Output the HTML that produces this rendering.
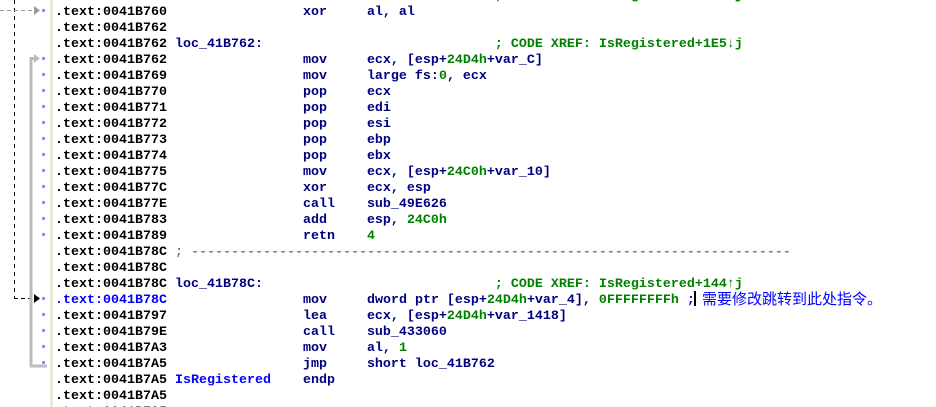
<!DOCTYPE html>
<html><head><meta charset="utf-8"><style>
html,body{margin:0;padding:0;background:#fff;width:936px;height:407px;overflow:hidden;position:relative}
.sep{position:absolute;left:50px;top:0;width:3px;height:407px;background:#ece9d8}
.r{position:absolute;left:55px;height:16px;line-height:16px;margin-top:3px;white-space:pre;font-family:"Liberation Mono",monospace;font-size:13.33px;font-weight:bold;color:#000}
.n{color:#000080}.g{color:#008000}.b{color:#0000ff}.gr{color:#808080}
.cjk{position:absolute;left:702px;top:290px;height:18px;line-height:18px;white-space:pre;font-family:"Noto Sans CJK SC",sans-serif;font-size:15px;color:#0000ff}
.dot{position:absolute;left:42px;width:3px;height:3px;background:#8080ff;border-radius:1px}
</style></head><body>
<div class="sep"></div>
<svg width="60" height="407" style="position:absolute;left:0;top:0">
<line x1="14.5" y1="0" x2="14.5" y2="298" stroke="#000" stroke-dasharray="4,4"/>
<line x1="0" y1="10.5" x2="34" y2="10.5" stroke="#999" stroke-dasharray="4,3"/>
<polygon points="34,6 40,10.5 34,15" fill="#999"/>
<line x1="14" y1="298.5" x2="34" y2="298.5" stroke="#000" stroke-dasharray="4,3"/>
<polygon points="34,294 40,298.5 34,303" fill="#000"/>
<path d="M31 366 L31 58.5 L35 58.5" stroke="#bbb" stroke-width="3" fill="none"/>
<polygon points="34,54 40,58.5 34,63" fill="#bbb"/>
<line x1="30" y1="366" x2="47" y2="366" stroke="#bbb" stroke-width="3"/>
</svg>
<div class="r g" style="top:-14px;left:495px">; CODE XREF: IsRegistered+1E0↓j</div>
<div class="r" style="top:2px">.text:0041B760                 <span class="n">xor     al, al</span></div>
<div class="r" style="top:18px">.text:0041B762</div>
<div class="r" style="top:34px">.text:0041B762 <span class="n">loc_41B762:</span>                             <span class="g">; CODE XREF: IsRegistered+1E5↓j</span></div>
<div class="r" style="top:50px">.text:0041B762                 <span class="n">mov     ecx, [esp+</span><span class="g">24D4h</span><span class="n">+var_C]</span></div>
<div class="r" style="top:66px">.text:0041B769                 <span class="n">mov     large fs:</span><span class="g">0</span><span class="n">, ecx</span></div>
<div class="r" style="top:82px">.text:0041B770                 <span class="n">pop     ecx</span></div>
<div class="r" style="top:98px">.text:0041B771                 <span class="n">pop     edi</span></div>
<div class="r" style="top:114px">.text:0041B772                 <span class="n">pop     esi</span></div>
<div class="r" style="top:130px">.text:0041B773                 <span class="n">pop     ebp</span></div>
<div class="r" style="top:146px">.text:0041B774                 <span class="n">pop     ebx</span></div>
<div class="r" style="top:162px">.text:0041B775                 <span class="n">mov     ecx, [esp+</span><span class="g">24C0h</span><span class="n">+var_10]</span></div>
<div class="r" style="top:178px">.text:0041B77C                 <span class="n">xor     ecx, esp</span></div>
<div class="r" style="top:194px">.text:0041B77E                 <span class="n">call    sub_49E626</span></div>
<div class="r" style="top:210px">.text:0041B783                 <span class="n">add     esp, </span><span class="g">24C0h</span></div>
<div class="r" style="top:226px">.text:0041B789                 <span class="n">retn    </span><span class="g">4</span></div>
<div class="r" style="top:242px">.text:0041B78C <span class="gr">; ---------------------------------------------------------------------------</span></div>
<div class="r" style="top:258px">.text:0041B78C</div>
<div class="r" style="top:274px">.text:0041B78C <span class="n">loc_41B78C:</span>                             <span class="g">; CODE XREF: IsRegistered+144↑j</span></div>
<div class="r" style="top:290px"><span class="b">.text:0041B78C</span>                 <span class="n">mov     dword ptr [esp+</span><span class="g">24D4h</span><span class="n">+var_4], </span><span class="g">0FFFFFFFFh</span> <span class="b">;</span></div>
<div class="cjk">需要修改跳转到此处指令。</div>
<div class="r" style="top:306px">.text:0041B797                 <span class="n">lea     ecx, [esp+</span><span class="g">24D4h</span><span class="n">+var_1418]</span></div>
<div class="r" style="top:322px">.text:0041B79E                 <span class="n">call    sub_433060</span></div>
<div class="r" style="top:338px">.text:0041B7A3                 <span class="n">mov     al, </span><span class="g">1</span></div>
<div class="r" style="top:354px">.text:0041B7A5                 <span class="n">jmp     short loc_41B762</span></div>
<div class="r" style="top:370px">.text:0041B7A5 <span class="b">IsRegistered</span>    <span class="n">endp</span></div>
<div class="r" style="top:386px">.text:0041B7A5</div>
<div class="r" style="top:402px">.text:0041B7A5</div>
<div style="position:absolute;left:694px;top:291px;width:2px;height:15px;background:#000"></div>
<div class="dot" style="top:9px"></div>
<div class="dot" style="top:57px"></div><div class="dot" style="top:73px"></div><div class="dot" style="top:89px"></div>
<div class="dot" style="top:105px"></div><div class="dot" style="top:121px"></div><div class="dot" style="top:137px"></div>
<div class="dot" style="top:153px"></div><div class="dot" style="top:169px"></div><div class="dot" style="top:185px"></div>
<div class="dot" style="top:201px"></div><div class="dot" style="top:217px"></div><div class="dot" style="top:233px"></div>
<div class="dot" style="top:297px"></div><div class="dot" style="top:313px"></div><div class="dot" style="top:329px"></div>
<div class="dot" style="top:345px"></div><div class="dot" style="top:361px"></div>
</body></html>
